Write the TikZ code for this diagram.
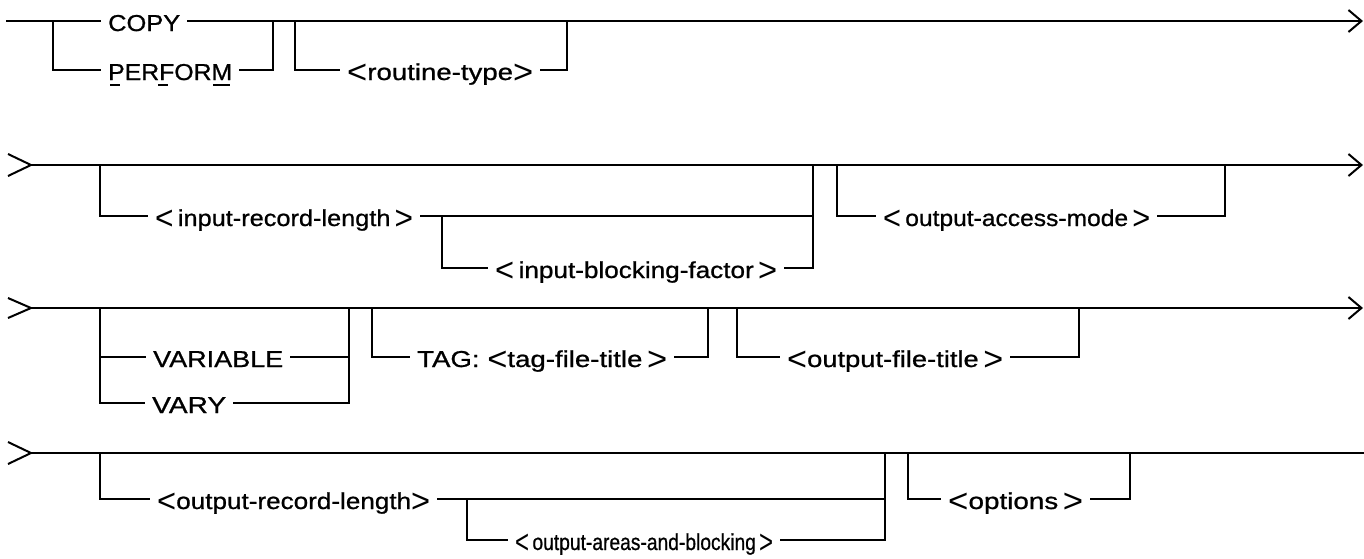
\documentclass[tikz,border=0pt]{standalone}
\usepackage{fontspec}
\setmainfont[FakeBold=0.8]{Liberation Sans}
\newfontfamily\chevfont{Liberation Sans}
\usepackage{graphicx}
\usetikzlibrary{arrows.meta}
% set a label to a given width (in pt), keeping its natural height
\newcommand\fitlab[2]{\resizebox{#1pt}{\height}{#2}}
% tall, thin angle brackets round a syntactic variable
\newcommand\ltchev{\raisebox{-3pt}{\scalebox{1.25}[1.45]{\chevfont <}}}
\newcommand\gtchev{\raisebox{-3pt}{\scalebox{1.25}[1.45]{\chevfont >}}}
\tikzset{
  rail/.style={line width=2pt, line join=miter},
  railend/.style={rail, -{Straight Barb[length=13pt,width=22pt]}},
  lab/.style={anchor=west, inner xsep=7pt, inner ysep=0pt,
              text height=20pt, text depth=0pt,
              font=\fontsize{23}{25}\selectfont},
}
\begin{document}
\begin{tikzpicture}[x=1pt,y=-1pt]
\useasboundingbox (0,0) rectangle (1364,558);

% ---------------- row 1 ----------------
\coordinate (r1s) at (6,21);
\coordinate (r1e) at (1363,21);
\coordinate (a1) at (53,21);
\coordinate (b1) at (273,21);
\coordinate (a2) at (295,21);
\coordinate (b2) at (567,21);
\node[lab] (copy)    at (101,21) {\fitlab{72}{COPY}};
\node[lab] (perform) at (101,70) {\fitlab{124}{PERFORM}};
\node[lab] (routine) at (340,70) {\fitlab{186}{\ltchev routine-type\gtchev}};
\draw[rail] (r1s) -- (copy.west);
\draw[railend] (copy.east) -- (r1e);
\draw[rail] (a1) |- (perform.west);
\draw[rail] (perform.east) -| (b1);
\draw[rail] (a2) |- (routine.west);
\draw[rail] (routine.east) -| (b2);
% abbreviation marks under P, F and M
\draw[rail] (110,85) -- (120,85);
\draw[rail] (158,85) -- (168,85);
\draw[rail] (213,85) -- (230,85);

% ---------------- row 2 ----------------
\coordinate (r2s) at (31,165);
\coordinate (r2e) at (1363,165);
\coordinate (a3) at (100,165);
\coordinate (b3) at (813,165);
\coordinate (j3) at (442,216);
\coordinate (a4) at (837,165);
\coordinate (b4) at (1225,165);
\node[lab] (irl) at (148,216) {\fitlab{258}{\ltchev\,input-record-length\,\gtchev}};
\node[lab] (ibf) at (488,268) {\fitlab{282}{\ltchev\,input-blocking-factor\,\gtchev}};
\node[lab] (oam) at (876,216) {\fitlab{267}{\ltchev\,output-access-mode\,\gtchev}};
\draw[rail] (8,154) -- (r2s) -- (8,176);
\draw[railend] (r2s) -- (r2e);
\draw[rail] (a3) |- (irl.west);
\draw[rail] (irl.east) -| (b3);
\draw[rail] (j3) |- (ibf.west);
\draw[rail] (ibf.east) -| (b3);
\draw[rail] (a4) |- (oam.west);
\draw[rail] (oam.east) -| (b4);

% ---------------- row 3 ----------------
\coordinate (r3s) at (31,308);
\coordinate (r3e) at (1363,308);
\coordinate (a5) at (100,308);
\coordinate (b5) at (349,308);
\coordinate (a6) at (372,308);
\coordinate (b6) at (708,308);
\coordinate (a7) at (737,308);
\coordinate (b7) at (1079,308);
\node[lab] (variable) at (146,357) {\fitlab{130}{VARIABLE}};
\node[lab] (vary)     at (145,403) {\fitlab{74}{VARY}};
\node[lab] (tag)      at (410,357) {\fitlab{250}{TAG: \ltchev tag-file-title\,\gtchev}};
\node[lab] (oft)      at (780,357) {\fitlab{216}{\ltchev output-file-title\,\gtchev}};
\draw[rail] (8,298) -- (r3s) -- (8,318);
\draw[railend] (r3s) -- (r3e);
\draw[rail] (a5) |- (vary.west);
\draw[rail] (a5 |- variable.west) -- (variable.west);
\draw[rail] (variable.east) -| (b5);
\draw[rail] (vary.east) -| (b5);
\draw[rail] (a6) |- (tag.west);
\draw[rail] (tag.east) -| (b6);
\draw[rail] (a7) |- (oft.west);
\draw[rail] (oft.east) -| (b7);

% ---------------- row 4 ----------------
\coordinate (r4s) at (31,453);
\coordinate (r4e) at (1364,453);
\coordinate (a8) at (100,453);
\coordinate (b8) at (885,453);
\coordinate (j8) at (467,499);
\coordinate (a9) at (908,453);
\coordinate (b9) at (1130,453);
\node[lab] (orl) at (150,499) {\fitlab{273}{\ltchev output-record-length\gtchev}};
\node[lab] (oab) at (508,540) {\fitlab{258}{\ltchev\,output-areas-and-blocking\,\gtchev}};
\node[lab] (opt) at (941,499) {\fitlab{135}{\ltchev options\,\gtchev}};
\draw[rail] (8,442) -- (r4s) -- (8,464);
\draw[rail] (r4s) -- (r4e);
\draw[rail] (a8) |- (orl.west);
\draw[rail] (orl.east) -| (b8);
\draw[rail] (j8) |- (oab.west);
\draw[rail] (oab.east) -| (b8);
\draw[rail] (a9) |- (opt.west);
\draw[rail] (opt.east) -| (b9);
\end{tikzpicture}
\end{document}
